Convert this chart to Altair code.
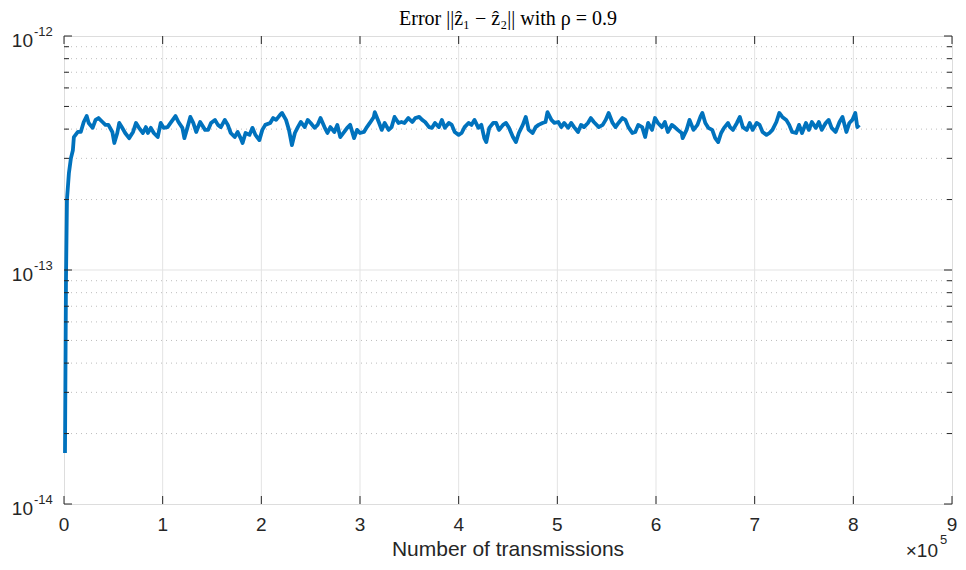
import altair as alt
import pandas as pd

# ---- data (x in units of 1e5 transmissions, error in units of 1e-13) ----
X = [0.01, 0.02, 0.03, 0.05, 0.07, 0.09, 0.10, 0.14, 0.17, 0.20,
     0.23, 0.25, 0.29, 0.32, 0.35, 0.39, 0.42, 0.45, 0.49, 0.51,
     0.54, 0.56, 0.59, 0.62, 0.66, 0.70, 0.73, 0.76, 0.80, 0.83,
     0.85, 0.88, 0.91, 0.95, 0.98, 1.01, 1.05, 1.08, 1.13, 1.16,
     1.20, 1.22, 1.25, 1.28, 1.31, 1.34, 1.38, 1.43, 1.46, 1.49,
     1.53, 1.56, 1.59, 1.63, 1.66, 1.69, 1.73, 1.76, 1.79, 1.81,
     1.84, 1.88, 1.91, 1.94, 1.98, 2.01, 2.04, 2.09, 2.12, 2.15,
     2.19, 2.21, 2.25, 2.28, 2.31, 2.34, 2.37, 2.40, 2.44, 2.47,
     2.50, 2.54, 2.57, 2.60, 2.64, 2.67, 2.70, 2.74, 2.77, 2.80,
     2.84, 2.87, 2.90, 2.94, 2.97, 3.00, 3.04, 3.07, 3.10, 3.14,
     3.15, 3.19, 3.22, 3.25, 3.29, 3.32, 3.35, 3.39, 3.42, 3.45,
     3.49, 3.53, 3.56, 3.60, 3.63, 3.66, 3.70, 3.73, 3.76, 3.80,
     3.83, 3.86, 3.90, 3.93, 3.96, 4.00, 4.03, 4.06, 4.10, 4.13,
     4.16, 4.20, 4.23, 4.26, 4.28, 4.31, 4.35, 4.38, 4.41, 4.45,
     4.48, 4.51, 4.55, 4.58, 4.61, 4.65, 4.68, 4.71, 4.75, 4.78,
     4.81, 4.85, 4.88, 4.90, 4.94, 4.97, 5.01, 5.04, 5.07, 5.11,
     5.14, 5.17, 5.21, 5.24, 5.27, 5.31, 5.34, 5.37, 5.42, 5.46,
     5.49, 5.52, 5.56, 5.59, 5.62, 5.66, 5.69, 5.72, 5.76, 5.79,
     5.82, 5.86, 5.89, 5.92, 5.96, 5.99, 6.02, 6.06, 6.09, 6.12,
     6.16, 6.19, 6.22, 6.26, 6.27, 6.31, 6.34, 6.38, 6.42, 6.45,
     6.47, 6.50, 6.53, 6.57, 6.60, 6.63, 6.66, 6.69, 6.73, 6.75,
     6.78, 6.82, 6.85, 6.88, 6.92, 6.95, 6.98, 7.02, 7.05, 7.08,
     7.12, 7.15, 7.18, 7.22, 7.25, 7.28, 7.32, 7.35, 7.38, 7.42,
     7.45, 7.48, 7.52, 7.55, 7.58, 7.62, 7.65, 7.68, 7.72, 7.75,
     7.78, 7.82, 7.86, 7.89, 7.93, 7.96, 7.99, 8.02, 8.04, 8.06]

ERR = [0.165, 0.9, 2.0, 2.6, 3.0, 3.25, 3.70, 3.89, 3.89, 4.29,
       4.55, 4.25, 4.05, 4.38, 4.46, 4.29, 4.17, 4.17, 3.89, 3.49,
       3.85, 4.25, 4.05, 3.85, 3.66, 3.89, 4.25, 4.05, 3.85, 4.08,
       3.85, 4.05, 3.85, 3.70, 4.25, 4.05, 4.08, 4.25, 4.55, 4.29,
       4.05, 3.66, 4.05, 4.51, 4.25, 3.89, 4.29, 3.97, 3.97, 4.25,
       4.38, 4.17, 4.08, 4.38, 4.17, 3.85, 3.70, 3.89, 3.66, 3.49,
       3.85, 3.78, 4.05, 3.78, 3.59, 3.97, 4.17, 4.25, 4.46, 4.38,
       4.60, 4.69, 4.38, 3.97, 3.42, 3.85, 4.08, 4.29, 4.08, 4.38,
       4.25, 4.05, 4.17, 4.46, 4.08, 3.85, 4.08, 3.89, 4.17, 3.70,
       3.89, 4.05, 4.17, 3.66, 3.97, 3.85, 3.89, 4.08, 4.25, 4.51,
       4.73, 4.29, 3.97, 4.25, 3.97, 4.08, 4.51, 4.25, 4.29, 4.25,
       4.46, 4.29, 4.46, 4.51, 4.38, 4.29, 4.08, 4.05, 4.25, 4.08,
       4.38, 4.05, 4.25, 4.17, 3.89, 3.78, 3.85, 4.08, 4.25, 4.17,
       4.38, 4.05, 4.17, 3.66, 3.52, 4.05, 4.25, 4.25, 3.97, 4.17,
       4.25, 4.05, 3.70, 3.52, 3.85, 4.17, 4.51, 3.97, 3.85, 4.08,
       4.17, 4.25, 4.29, 4.73, 4.38, 4.25, 4.29, 4.08, 4.25, 4.05,
       4.25, 4.08, 3.89, 4.17, 4.08, 4.25, 4.46, 4.29, 4.08, 4.17,
       4.38, 4.69, 4.25, 4.08, 4.25, 4.46, 4.38, 4.08, 3.85, 3.89,
       4.17, 4.08, 3.70, 4.25, 3.97, 4.46, 4.25, 4.08, 4.29, 3.89,
       4.17, 4.08, 3.97, 3.85, 3.66, 3.97, 4.38, 3.97, 4.17, 4.51,
       4.69, 4.25, 4.05, 3.97, 3.66, 3.52, 3.85, 4.05, 4.25, 4.08,
       3.97, 4.25, 4.51, 4.08, 3.97, 4.25, 3.97, 4.25, 4.17, 3.89,
       3.78, 3.85, 3.97, 4.29, 4.69, 4.51, 4.38, 4.17, 3.89, 3.85,
       4.17, 3.85, 4.25, 3.97, 4.29, 4.05, 4.29, 3.97, 4.25, 4.38,
       4.05, 3.89, 4.29, 4.51, 3.89, 4.25, 4.38, 4.69, 4.08, 4.17]

ERR_UNIT = 1e-13

X_TICKS = [0, 1, 2, 3, 4, 5, 6, 7, 8, 9]
X_LABELS = ["0", "1", "2", "3", "4", "5", "6", "7", "8", "9"]
X_GRID = [1, 2, 3, 4, 5, 6, 7, 8]
Y_MAJOR = [1e-14, 1e-13, 1e-12]
Y_EXP = ["-14", "-13", "-12"]
Y_MINOR = [2e-14, 3e-14, 4e-14, 5e-14, 6e-14, 7e-14, 8e-14, 9e-14,
           2e-13, 3e-13, 4e-13, 5e-13, 6e-13, 7e-13, 8e-13, 9e-13]

TITLE = "Error ||\u1e91\u2081  \u2212  \u1e91\u2082|| with \u03c1  =  0.9"
XLABEL = "Number of transmissions"

# ---- chart ----
W, H = 888, 468
INK = "#262626"
BLUE = "#0072BD"
SANS = "Liberation Sans"
SERIF = "Liberation Serif, DejaVu Serif, serif"

df = pd.DataFrame({"x": X, "v": [e * ERR_UNIT for e in ERR]})
xs = alt.Scale(domain=[0, 9], nice=False, zero=False)
ys = alt.Scale(type="log", domain=[1e-14, 1e-12], nice=False)

xticks_df = pd.DataFrame({"x": X_TICKS, "t": X_LABELS})
xgrid_df = pd.DataFrame({"x": X_GRID})
ymaj_df = pd.DataFrame({"v": Y_MAJOR, "e": Y_EXP})
ymin_df = pd.DataFrame({"v": Y_MINOR})
one = pd.DataFrame({"a": [0]})


def xenc():
    return alt.X("x:Q", scale=xs, axis=None)


def yenc():
    return alt.Y("v:Q", scale=ys, axis=None)


grid_x = alt.Chart(xgrid_df).mark_rule(color="#e3e3e3", strokeWidth=1).encode(x=xenc())
grid_y = alt.Chart(pd.DataFrame({"v": [1e-13]})).mark_rule(color="#e3e3e3", strokeWidth=1).encode(y=yenc())
grid_minor = alt.Chart(ymin_df).mark_rule(color="#bdbdbd", strokeWidth=1, strokeDash=[1, 4]).encode(y=yenc())

line = alt.Chart(df).mark_line(color=BLUE, strokeWidth=3.8, strokeJoin="round").encode(
    x=xenc(), y=yenc())

tick_bot = alt.Chart(xticks_df).mark_rule(color=INK, strokeWidth=1).encode(
    x=xenc(), y=alt.value(H), y2=alt.value(H - 8))
tick_top = alt.Chart(xticks_df).mark_rule(color=INK, strokeWidth=1).encode(
    x=xenc(), y=alt.value(0), y2=alt.value(8))
tick_yl = alt.Chart(ymaj_df).mark_rule(color=INK, strokeWidth=1).encode(
    y=yenc(), x=alt.value(0), x2=alt.value(8))
tick_yr = alt.Chart(ymaj_df).mark_rule(color=INK, strokeWidth=1).encode(
    y=yenc(), x=alt.value(W), x2=alt.value(W - 8))
mtick_yl = alt.Chart(ymin_df).mark_rule(color=INK, strokeWidth=1).encode(
    y=yenc(), x=alt.value(0), x2=alt.value(5))
mtick_yr = alt.Chart(ymin_df).mark_rule(color=INK, strokeWidth=1).encode(
    y=yenc(), x=alt.value(W), x2=alt.value(W - 5))

xlab = alt.Chart(xticks_df).mark_text(align="center", baseline="middle", font=SANS,
                                      fontSize=19, color=INK).encode(
    x=xenc(), y=alt.value(H + 21), text="t:N")
xtitle = alt.Chart(one).mark_text(align="center", baseline="middle", font=SANS,
                                  fontSize=21, color=INK).encode(
    x=alt.value(W / 2), y=alt.value(H + 46), text=alt.value(XLABEL))
title = alt.Chart(one).mark_text(align="center", baseline="middle", font=SERIF,
                                 fontSize=20, color="#000000").encode(
    x=alt.value(W / 2), y=alt.value(-17), text=alt.value(TITLE))

ylab_base = alt.Chart(ymaj_df).mark_text(align="right", baseline="middle", font=SANS,
                                         fontSize=19, color=INK, dy=5).encode(
    y=yenc(), x=alt.value(-31), text=alt.value("10"))
ylab_exp = alt.Chart(ymaj_df).mark_text(align="left", baseline="middle", font=SANS,
                                        fontSize=13, color=INK, dy=-4).encode(
    y=yenc(), x=alt.value(-30), text="e:N")

mult_base = alt.Chart(one).mark_text(align="right", baseline="middle", font=SANS,
                                     fontSize=19, color=INK).encode(
    x=alt.value(W - 14), y=alt.value(H + 47), text=alt.value("\u00d710"))
mult_exp = alt.Chart(one).mark_text(align="left", baseline="middle", font=SANS,
                                    fontSize=13, color=INK).encode(
    x=alt.value(W - 12), y=alt.value(H + 36), text=alt.value("5"))

chart = alt.layer(
    grid_x, grid_y, grid_minor, line,
    tick_bot, tick_top, tick_yl, tick_yr, mtick_yl, mtick_yr,
    xlab, xtitle, title, ylab_base, ylab_exp, mult_base, mult_exp,
).properties(
    width=W, height=H,
    autosize=alt.AutoSizeParams(type="none"),
    padding={"left": 56, "top": 28, "right": 6, "bottom": 58},
).configure_view(stroke=INK, strokeWidth=1).configure(background="white")

chart.save("out.html", embed_options={"renderer": "svg", "actions": False})
